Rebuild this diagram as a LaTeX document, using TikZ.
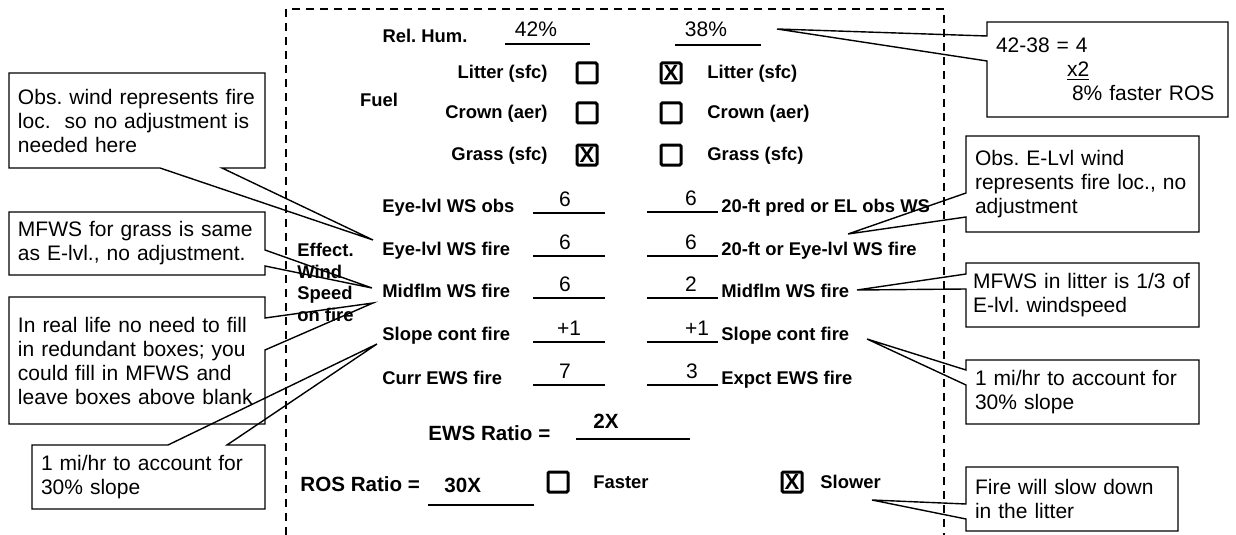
\documentclass[tikz,border=0pt]{standalone}
\usepackage{fontspec}
\setmainfont{Liberation Sans}
\usepackage{tikz}
\usetikzlibrary{calc}
\AtBeginDocument{\frenchspacing}
\tikzset{
  lbl/.style={font=\bfseries\fontsize{9.2}{11}\selectfont, inner sep=0pt},
  val/.style={font=\fontsize{10.5}{12}\selectfont, inner sep=0pt, anchor=base},
  big/.style={font=\bfseries\fontsize{10.3}{12}\selectfont, inner sep=0pt, anchor=base west},
  chk/.style={draw, line width=1.5pt, minimum size=10pt, inner sep=0pt, rounded corners=0.6pt,
              font=\bfseries\fontsize{11}{11}\selectfont},
  note/.style={font=\fontsize{10.5}{12}\selectfont, align=left, anchor=north west,
               inner xsep=4.5pt, inner ysep=0pt, outer sep=0pt},
  co/.style={line width=0.7pt, line join=miter},
  blank/.style={line width=0.9pt}
}

\begin{document}
\begin{tikzpicture}[x=0.5pt,y=-0.5pt]
	\useasboundingbox (0,0) rectangle (1236,535);

	% worksheet frame
	\draw[line width=0.75pt, dash pattern=on 4pt off 3pt] (286,535) -- (286,9) -- (944,9) -- (944,535);

	% relative humidity
	\node[lbl, anchor=base] (RH) at (425,43) {Rel. Hum.};
	\node[val] (RH1) at (536,37) {42\%};
	\node[val] (RH2) at (706,37) {38\%};
	\draw[blank] (505,44) -- (590,44);
	\draw[blank] (675,45) -- (761,45);

	% fuel
	\node[lbl, anchor=base] (F) at (379,107) {Fuel};
	\node[lbl, anchor=base east] (L1) at (548,79) {Litter (sfc)};
	\node[lbl, anchor=base east] (L2) at (548,119) {Crown (aer)};
	\node[lbl, anchor=base east] (L3) at (548,161) {Grass (sfc)};
	\node[chk] (bL1) at (587,73) {};
	\node[chk] (bL2) at (587,113) {};
	\node[chk] (bL3) at (587,155) {X};
	\node[chk] (bR1) at (671,73) {X};
	\node[chk] (bR2) at (671,113) {};
	\node[chk] (bR3) at (671,155) {};
	\node[lbl, anchor=base west] (R1) at (707,79) {Litter (sfc)};
	\node[lbl, anchor=base west] (R2) at (707,119) {Crown (aer)};
	\node[lbl, anchor=base west] (R3) at (707,161) {Grass (sfc)};

	% wind speed
	\node[lbl, font=\bfseries\fontsize{9.2}{10.8}\selectfont, align=left, anchor=north west] (EW) at (297,243) {Effect.\\Wind\\Speed\\on fire};
	\node[lbl, anchor=base west] (W1) at (382,212) {Eye-lvl WS obs};
	\node[lbl, anchor=base west] (W2) at (382,255) {Eye-lvl WS fire};
	\node[lbl, anchor=base west] (W3) at (382,297) {Midflm WS fire};
	\node[lbl, anchor=base west] (W4) at (382,340) {Slope cont fire};
	\node[lbl, anchor=base west] (W5) at (382,384) {Curr EWS fire};
	\node[val] (v1) at (565,206) {6};
	\node[val] (v2) at (565,249) {6};
	\node[val] (v3) at (565,291) {6};
	\node[val] (v4) at (569,335) {+1};
	\node[val] (v5) at (565,378) {7};
	\draw[blank] (533,213) -- (605,213);
	\draw[blank] (533,256) -- (605,256);
	\draw[blank] (533,298) -- (605,298);
	\draw[blank] (533,342) -- (605,342);
	\draw[blank] (533,385) -- (605,385);
	\node[val] (u1) at (691,205) {6};
	\node[val] (u2) at (691,249) {6};
	\node[val] (u3) at (691,291) {2};
	\node[val] (u4) at (697,335) {+1};
	\node[val] (u5) at (692,378) {3};
	\draw[blank] (647,212) -- (718,212);
	\draw[blank] (647,256) -- (718,256);
	\draw[blank] (647,298) -- (718,298);
	\draw[blank] (647,342) -- (718,342);
	\draw[blank] (647,385) -- (718,385);
	\node[lbl, anchor=base west] (X1) at (721,212) {20-ft pred or EL obs WS};
	\node[lbl, anchor=base west] (X2) at (721,255) {20-ft or Eye-lvl WS fire};
	\node[lbl, anchor=base west] (X3) at (721,297) {Midflm WS fire};
	\node[lbl, anchor=base west] (X4) at (721,340) {Slope cont fire};
	\node[lbl, anchor=base west] (X5) at (721,384) {Expct EWS fire};

	% ratios
	\node[big] (EWS) at (428,440) {EWS Ratio =};
	\node[big] (EWSv) at (593,428) {2X};
	\draw[blank] (576,439) -- (690,439);
	\node[big] (ROS) at (300,491) {ROS Ratio =};
	\node[big] (ROSv) at (444,492) {30X};
	\draw[blank] (428,505) -- (534,505);
	\node[chk] (bF) at (558,482) {};
	\node[lbl, anchor=base west] (Fa) at (593,488) {Faster};
	\node[chk] (bS) at (792,482) {X};
	\node[lbl, anchor=base west] (Sl) at (820,488) {Slower};

	% callouts, left
	\node[note, text width=119pt, minimum height=47.5pt] (cA) at (9,73) {Obs. wind represents fire\\loc.\ \ so no adjustment is\\needed here};
	\node[note, text width=119pt, minimum height=31.5pt] (cB) at (9,212) {MFWS for grass is same\\as E-lvl., no adjustment.};
	\node[note, text width=119pt, minimum height=63.5pt] (cC) at (9,297) {In real life no need to fill\\in redundant boxes; you\\could fill in MFWS and\\leave boxes above blank};
	\node[note, text width=107.5pt, minimum height=32pt] (cD) at (32,445) {1 mi/hr to account for\\30\% slope};
	\coordinate (tA) at (373,240);
	\coordinate (tB) at (372,288);
	\coordinate (tC) at (373,303);
	\coordinate (tD) at (377,344);
	\draw[co] (cA.north west) -- (cA.north east) -- (cA.south east) -- ($(cA.south west)+(213,0)$) -- (tA)
		-- ($(cA.south west)+(151,0)$) -- (cA.south west) -- cycle;
	\draw[co] (cB.north west) -- (cB.north east) -- ($(cB.north east)+(0,38)$) -- (tB)
		-- ($(cB.north east)+(0,54)$) -- (cB.south east) -- (cB.south west) -- cycle;
	\draw[co] (cC.north west) -- (cC.north east) -- ($(cC.north east)+(0,21)$) -- (tC)
		-- ($(cC.north east)+(0,53)$) -- (cC.south east) -- (cC.south west) -- cycle;
	\draw[co] (cD.north west) -- ($(cD.north west)+(136,0)$) -- (tD) -- ($(cD.north west)+(195,0)$)
		-- (cD.north east) -- (cD.south east) -- (cD.south west) -- cycle;

	% callouts, right
	\node[note, text width=111.5pt, minimum height=47.5pt] (cE) at (987,22) {42-38 = 4\\\hspace*{35.5pt}\underline{x2}\\\hspace*{38pt}8\% faster ROS};
	\node[note, text width=107.5pt, minimum height=48pt] (cF) at (966,136) {Obs. E-Lvl wind\\represents fire loc., no\\adjustment};
	\node[note, inner xsep=3.5pt, text width=109.5pt, minimum height=32pt] (cG) at (966,263) {MFWS in litter is 1/3 of\\E-lvl. windspeed};
	\node[note, text width=107.5pt, minimum height=32pt] (cH) at (966,360) {1 mi/hr to account for\\30\% slope};
	\node[note, text width=97pt, minimum height=32pt] (cI) at (966,467) {Fire will slow down\\in the litter};
	\coordinate (tE) at (777,29);
	\coordinate (tF) at (848,234);
	\coordinate (tG) at (857,290);
	\coordinate (tH) at (867,339);
	\coordinate (tI) at (872,500);
	\draw[co] (cE.north west) -- (cE.north east) -- (cE.south east) -- (cE.south west)
		-- ($(cE.north west)+(0,39)$) -- (tE) -- ($(cE.north west)+(0,14)$) -- cycle;
	\draw[co] (cF.north west) -- (cF.north east) -- (cF.south east) -- (cF.south west)
		-- ($(cF.north west)+(0,81)$) -- (tF) -- ($(cF.north west)+(0,57)$) -- cycle;
	\draw[co] (cG.north west) -- (cG.north east) -- (cG.south east) -- (cG.south west)
		-- ($(cG.north west)+(0,26)$) -- (tG) -- ($(cG.north west)+(0,11)$) -- cycle;
	\draw[co] (cH.north west) -- (cH.north east) -- (cH.south east) -- (cH.south west)
		-- ($(cH.north west)+(0,25)$) -- (tH) -- ($(cH.north west)+(0,10)$) -- cycle;
	\draw[co] (cI.north west) -- (cI.north east) -- (cI.south east) -- (cI.south west)
		-- ($(cI.north west)+(0,52)$) -- (tI) -- ($(cI.north west)+(0,37)$) -- cycle;
\end{tikzpicture}
\end{document}
